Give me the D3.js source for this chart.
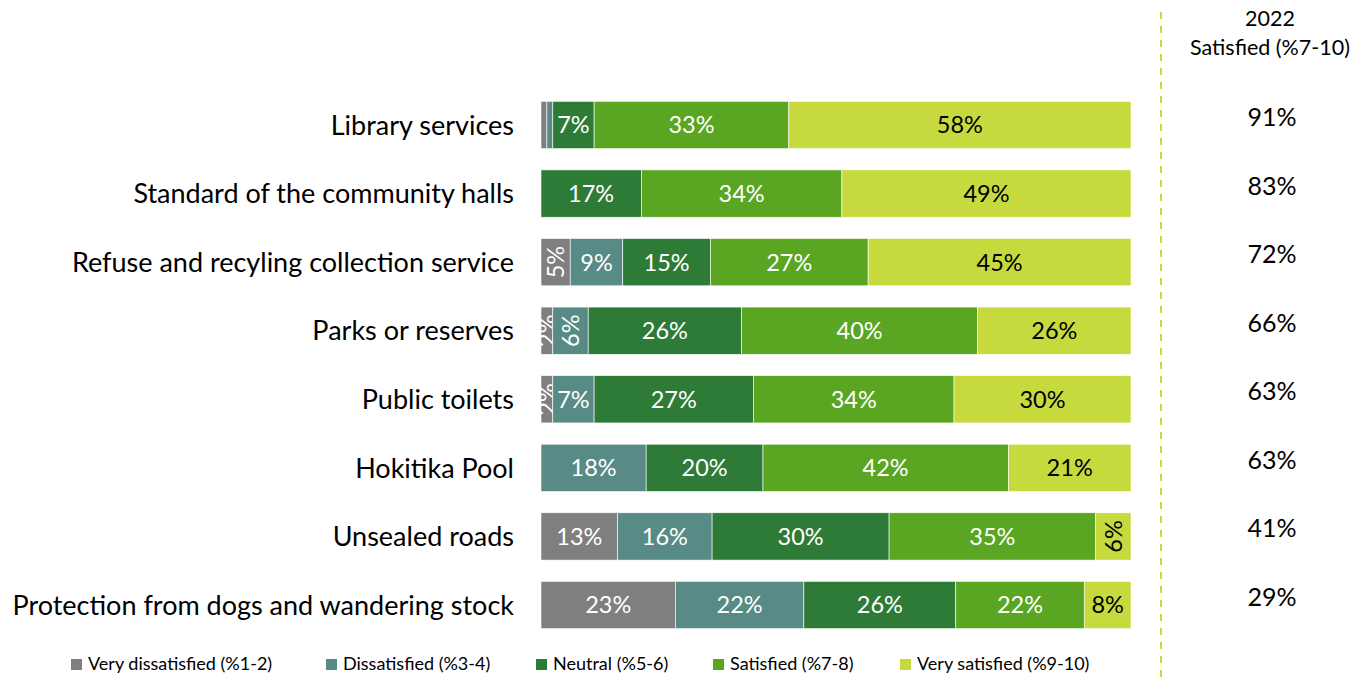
<!DOCTYPE html>
<html>
<head>
<meta charset="utf-8">
<script src="https://cdn.jsdelivr.net/npm/d3@7/dist/d3.min.js"></script>
<style>
  html, body { margin: 0; padding: 0; background: #fff; }
  svg { display: block; font-family: Lato, "Open Sans", sans-serif; }
</style>
</head>
<body>
<svg id="chart" width="1363" height="680"></svg>
<script>
// Service satisfaction survey results
const categories = [
  "Library services",
  "Standard of the community halls",
  "Refuse and recyling collection service",
  "Parks or reserves",
  "Public toilets",
  "Hokitika Pool",
  "Unsealed roads",
  "Protection from dogs and wandering stock"
];
const seriesNames = [
  "Very dissatisfied (%1-2)",
  "Dissatisfied (%3-4)",
  "Neutral (%5-6)",
  "Satisfied (%7-8)",
  "Very satisfied (%9-10)"
];
const veryDissatisfied = [1, 0, 5, 2, 2, 0, 13, 23];
const dissatisfied     = [1, 0, 9, 6, 7, 18, 16, 22];
const neutral          = [7, 17, 15, 26, 27, 20, 30, 26];
const satisfied        = [33, 34, 27, 40, 34, 42, 35, 22];
const verySatisfied    = [58, 49, 45, 26, 30, 21, 6, 8];
const satisfied2022    = [91, 83, 72, 66, 63, 63, 41, 29];
const columnTitle = ["2022", "Satisfied (%7-10)"];

const colors = ["#7f7f7f", "#588b85", "#2e7b38", "#5aa622", "#c6da3e"];
const labelColors = ["#fff", "#fff", "#fff", "#fff", "#000"];

const seriesValues = [veryDissatisfied, dissatisfied, neutral, satisfied, verySatisfied];
const rows = categories.map((c, i) => {
  const r = { category: c };
  seriesNames.forEach((s, k) => { r[s] = seriesValues[k][i]; });
  return r;
});

const stacked = d3.stack()
  .keys(seriesNames)
  .offset(d3.stackOffsetExpand)(rows);

const svg = d3.select("#chart");

const x = d3.scaleLinear().domain([0, 1]).range([541, 1131]);
const y = d3.scaleBand().domain(categories).range([90.7, 639.3]).paddingInner(0.31).paddingOuter(0.155);

// stacked segments
const layers = svg.append("g").selectAll("g")
  .data(stacked)
  .join("g")
  .attr("fill", (d, i) => colors[i]);

layers.selectAll("rect")
  .data(d => d.map(p => ({ p, key: d.key })))
  .join("rect")
  .attr("x", d => x(d.p[0]))
  .attr("y", d => y(d.p.data.category))
  .attr("width", d => Math.max(0, x(d.p[1]) - x(d.p[0])))
  .attr("height", y.bandwidth())
  .attr("stroke", "#fff")
  .attr("stroke-width", 0.6);

// value labels inside segments (rotated when the segment is narrow)
layers.each(function (layer, k) {
  d3.select(this).selectAll("text")
    .data(layer.map(p => ({ p, v: p.data[layer.key] })).filter(d => d.v >= 2))
    .join("text")
    .attr("transform", d => {
      const cx = (x(d.p[0]) + x(d.p[1])) / 2;
      const cy = y(d.p.data.category) + y.bandwidth() / 2;
      const w = x(d.p[1]) - x(d.p[0]);
      return w < 38 ? `translate(${cx},${cy}) rotate(-90)` : `translate(${cx},${cy})`;
    })
    .attr("text-anchor", "middle")
    .attr("dy", "0.36em")
    .attr("font-size", 23.5)
    .attr("fill", labelColors[k])
    .text(d => d.v + "%");
});

// category axis labels
const yAxis = d3.axisLeft(y).tickSize(0).tickPadding(0);
const gy = svg.append("g").attr("transform", "translate(514,0)").call(yAxis);
gy.select(".domain").remove();
gy.selectAll("text")
  .attr("font-size", 27)
  .attr("font-family", "Lato, 'Open Sans', sans-serif")
  .attr("fill", "#000")
  .attr("dy", "0.36em");

// divider
svg.append("line")
  .attr("x1", 1161).attr("x2", 1161)
  .attr("y1", 12).attr("y2", 680)
  .attr("stroke", "#c6da3e")
  .attr("stroke-width", 2)
  .attr("stroke-dasharray", "7,7");

// 2022 satisfied column
svg.append("g").selectAll("text")
  .data(columnTitle)
  .join("text")
  .attr("x", 1270)
  .attr("y", (d, i) => 18 + i * 29)
  .attr("dy", "0.36em")
  .attr("text-anchor", "middle")
  .attr("font-size", 21.5)
  .attr("fill", "#000")
  .text(d => d);

svg.append("g").selectAll("text")
  .data(satisfied2022)
  .join("text")
  .attr("x", 1272)
  .attr("y", (d, i) => y(categories[i]) + y.bandwidth() / 2 - 8)
  .attr("dy", "0.36em")
  .attr("text-anchor", "middle")
  .attr("font-size", 25)
  .attr("fill", "#000")
  .text(d => d + "%");

// legend
const legendX = [71, 326, 536, 713, 900];
const legend = svg.append("g").selectAll("g")
  .data(seriesNames)
  .join("g")
  .attr("transform", (d, i) => `translate(${legendX[i]},664)`);
legend.append("rect")
  .attr("x", 0).attr("y", -5)
  .attr("width", 11).attr("height", 11)
  .attr("fill", (d, i) => colors[i]);
legend.append("text")
  .attr("x", 17)
  .attr("dy", "0.36em")
  .attr("font-size", 18)
  .attr("fill", "#000")
  .text(d => d);
</script>
</body>
</html>
